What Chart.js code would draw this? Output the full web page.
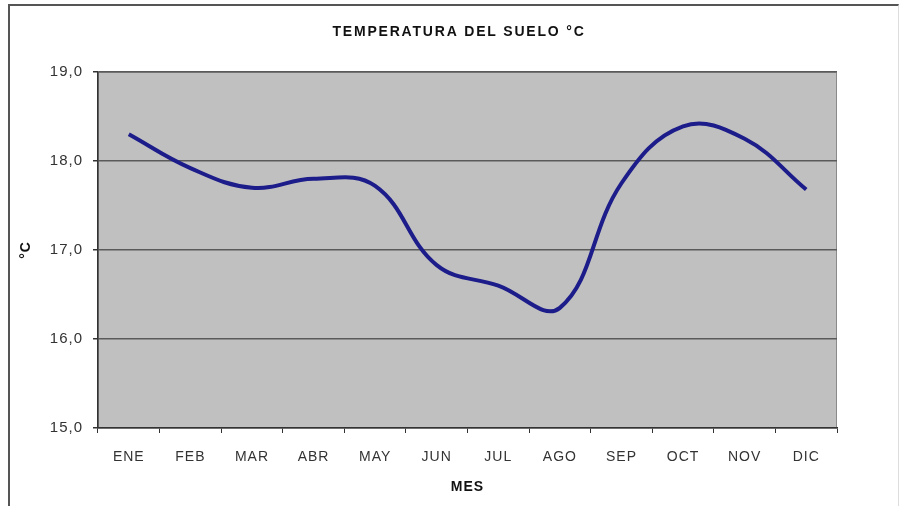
<!DOCTYPE html>
<html>
<head>
<meta charset="utf-8">
<script src="https://cdn.jsdelivr.net/npm/chart.js@4/dist/chart.umd.min.js"></script>
<style>
    body { margin: 0; background: #fff; }
    #wrap { position: relative; width: 901px; height: 506px; overflow: hidden; }
    #frame {
        position: absolute; left: 8px; top: 4px; width: 888px; height: 520px;
        border-left: 2px solid #555; border-top: 2px solid #555; border-right: 1px solid #ddd;
    }
    canvas { position: absolute; left: 0; top: 0; }
</style>
</head>
<body>
<div id="wrap">
    <div id="frame"></div>
    <canvas id="soilChart" width="901" height="506"></canvas>
</div>
<script>
// Data
const months = ['ENE', 'FEB', 'MAR', 'ABR', 'MAY', 'JUN', 'JUL', 'AGO', 'SEP', 'OCT', 'NOV', 'DIC'];
const soilTemp = [18.3, 17.92, 17.7, 17.8, 17.72, 16.83, 16.6, 16.35, 17.75, 18.39, 18.25, 17.68];
const yTickLabels = ['15,0', '16,0', '17,0', '18,0', '19,0'];
const chartTitle = 'TEMPERATURA DEL SUELO °C';

// Grey plot area + spaced-out lettering like the Excel original
const plotArea = {
    id: 'plotArea',
    beforeDraw(chart) {
        const { ctx, chartArea: a } = chart;
        ctx.letterSpacing = '1px';
        ctx.save();
        ctx.fillStyle = '#c0c0c0';
        ctx.fillRect(a.left, a.top, a.right - a.left, a.bottom - a.top);
        ctx.strokeStyle = '#8a8a8a';
        ctx.lineWidth = 1;
        ctx.strokeRect(a.left + 0.5, a.top + 0.5, a.right - a.left - 1, a.bottom - a.top - 1);
        ctx.restore();
    },
    // title sits a bit right of the plot centre in the original
    afterDraw(chart) {
        const ctx = chart.ctx;
        ctx.save();
        ctx.letterSpacing = '1.8px';
        ctx.font = 'bold 14px "Liberation Sans"';
        ctx.fillStyle = '#111';
        ctx.textAlign = 'center';
        ctx.textBaseline = 'middle';
        ctx.fillText(chartTitle, 459, 32);
        ctx.restore();
    }
};

new Chart(document.getElementById('soilChart'), {
    type: 'line',
    data: {
        labels: months,
        datasets: [{
            label: 'Temperatura',
            data: soilTemp,
            borderColor: '#1c1c8a',
            borderWidth: 4,
            pointRadius: 0,
            tension: 0.4,
            fill: false
        }]
    },
    options: {
        responsive: false,
        animation: false,
        layout: { padding: { top: 72, left: 10, right: 64, bottom: 0 } },
        plugins: {
            legend: { display: false },
            tooltip: { enabled: false },
            title: { display: false }
        },
        scales: {
            x: {
                offset: true,
                afterFit: (scale) => { scale.height = 78; },
                grid: { offset: true, drawOnChartArea: false, tickLength: 5, color: '#333', lineWidth: 1 },
                border: { color: '#333', width: 1.5 },
                ticks: { color: '#333', padding: 16, font: { family: 'Liberation Sans', size: 14 } },
                title: {
                    display: true,
                    text: 'MES',
                    color: '#111',
                    font: { family: 'Liberation Sans', size: 14, weight: 'bold' },
                    padding: { top: 0, bottom: 10 }
                }
            },
            y: {
                min: 15,
                max: 19,
                afterFit: (scale) => { scale.width = 88; },
                ticks: {
                    stepSize: 1,
                    color: '#333',
                    padding: 10,
                    font: { family: 'Liberation Sans', size: 15 },
                    callback: (value, index) => yTickLabels[index]
                },
                grid: { color: '#5a5a5a', lineWidth: 1.5, tickLength: 5, tickColor: '#333' },
                border: { color: '#333', width: 1.5 },
                title: {
                    display: true,
                    text: '°C',
                    color: '#111',
                    font: { family: 'Liberation Sans', size: 14, weight: 'bold' },
                    padding: { top: 8, bottom: 0 }
                }
            }
        }
    },
    plugins: [plotArea]
});
</script>
</body>
</html>
